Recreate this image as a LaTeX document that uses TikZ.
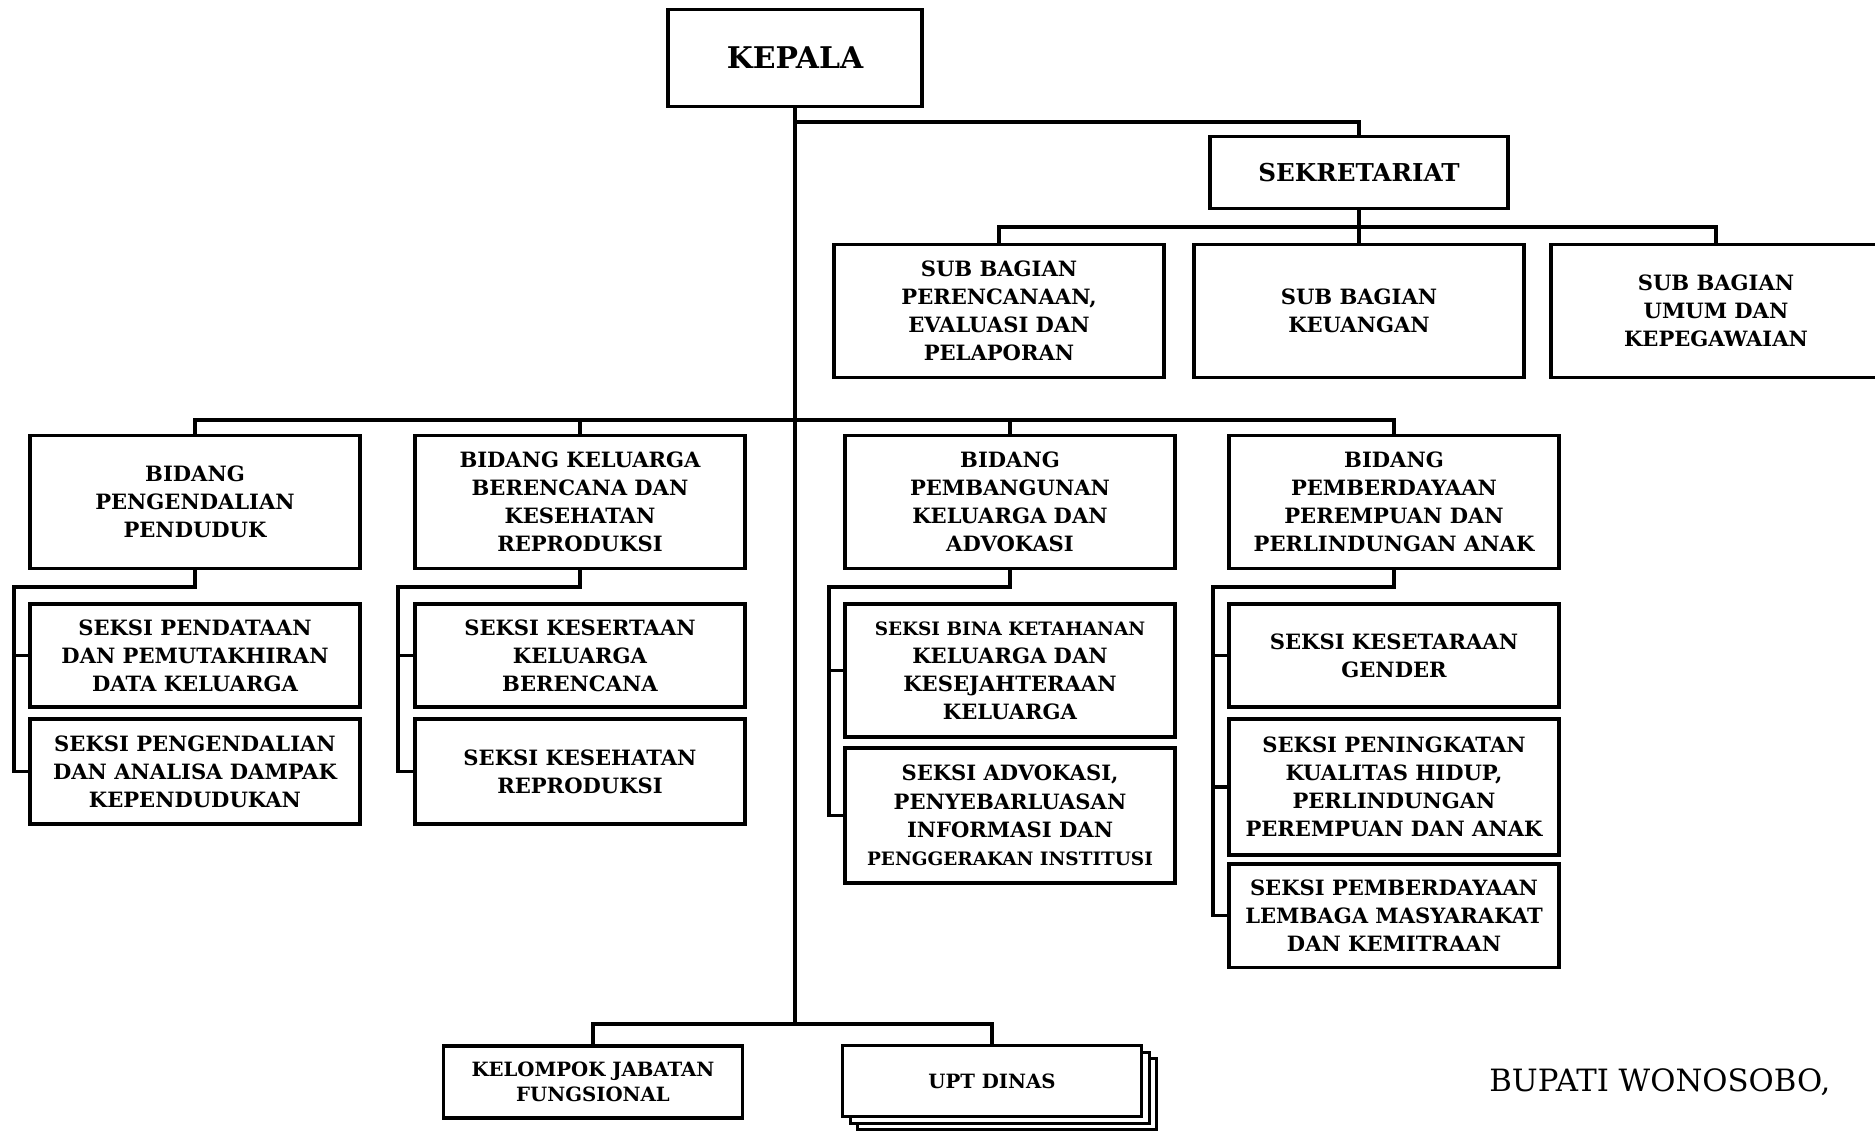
\documentclass[tikz,border=0pt]{standalone}
\usepackage{fontspec}
\setmainfont{DejaVu Serif}
\usetikzlibrary{positioning,shadows}
\newcommand\txtkepala{\bfseries\fontsize{17}{20}\selectfont}
\newcommand\txtsekre{\bfseries\fontsize{14}{17}\selectfont}
\newcommand\txtbox{\bfseries\fontsize{12}{16}\selectfont}
\newcommand\txtkecil{\bfseries\fontsize{10.5}{14}\selectfont}
\newcommand\txtbawah{\bfseries\fontsize{11.2}{14.5}\selectfont}
\newcommand\txtttd{\fontsize{17.5}{21}\selectfont}
\tikzset{
  obox/.style={draw, line width=2.2pt, fill=white, align=center,
               inner sep=2pt, font=\txtbox},
  nsub/.style={obox, minimum width=6.6cm, minimum height=2.66cm},
  nbid/.style={obox, minimum width=6.6cm, minimum height=2.66cm},
  nsek/.style={obox, minimum width=6.6cm},
  nbawah/.style={obox, font=\txtbawah, minimum width=5.98cm, minimum height=1.44cm},
  link/.style={line width=1.9pt},
}

\begin{document}
\begin{tikzpicture}[x=0.02cm, y=-0.02cm]
  \useasboundingbox (0,0) rectangle (1875,1130);
  % pimpinan dan sekretariat
  \node[obox, font=\txtkepala, minimum width=5.08cm, minimum height=1.94cm] (kepala) at (795,58) {KEPALA};
  \node[obox, font=\txtsekre, minimum width=5.96cm, minimum height=1.44cm] (sekre) at (1359,172.5) {SEKRETARIAT};
  \node[nsub] (sb1) at (999,311) {SUB BAGIAN\\PERENCANAAN,\\EVALUASI DAN\\PELAPORAN};
  \node[nsub] (sb2) at (1359,311) {SUB BAGIAN\\KEUANGAN};
  \node[nsub] (sb3) at (1716,311) {SUB BAGIAN\\UMUM DAN\\KEPEGAWAIAN};
  % bidang
  \node[nbid] (bid1) at (195,502) {BIDANG\\PENGENDALIAN\\PENDUDUK};
  \node[nbid] (bid2) at (580,502) {BIDANG KELUARGA\\BERENCANA DAN\\KESEHATAN\\REPRODUKSI};
  \node[nbid] (bid3) at (1010,502) {BIDANG\\PEMBANGUNAN\\KELUARGA DAN\\ADVOKASI};
  \node[nbid] (bid4) at (1394,502) {BIDANG\\PEMBERDAYAAN\\PEREMPUAN DAN\\PERLINDUNGAN ANAK};
  % seksi
  \node[nsek, minimum height=2.05cm, below=0.64cm of bid1] (s11) {SEKSI PENDATAAN\\DAN PEMUTAKHIRAN\\DATA KELUARGA};
  \node[nsek, minimum height=2.09cm, below=0.17cm of s11] (s12) {SEKSI PENGENDALIAN\\DAN ANALISA DAMPAK\\KEPENDUDUKAN};
  \node[nsek, minimum height=2.05cm, below=0.64cm of bid2] (s21) {SEKSI KESERTAAN\\KELUARGA\\BERENCANA};
  \node[nsek, minimum height=2.09cm, below=0.17cm of s21] (s22) {SEKSI KESEHATAN\\REPRODUKSI};
  \node[nsek, minimum height=2.65cm, below=0.64cm of bid3] (s31) {{\txtkecil SEKSI BINA KETAHANAN}\\KELUARGA DAN\\KESEJAHTERAAN\\KELUARGA};
  \node[nsek, minimum height=2.69cm, below=0.15cm of s31] (s32) {SEKSI ADVOKASI,\\PENYEBARLUASAN\\INFORMASI DAN\\{\txtkecil PENGGERAKAN INSTITUSI}};
  \node[nsek, minimum height=2.05cm, below=0.64cm of bid4] (s41) {SEKSI KESETARAAN\\GENDER};
  \node[nsek, minimum height=2.71cm, below=0.17cm of s41] (s42) {SEKSI PENINGKATAN\\KUALITAS HIDUP,\\PERLINDUNGAN\\PEREMPUAN DAN ANAK};
  \node[nsek, minimum height=2.07cm, below=0.11cm of s42] (s43) {SEKSI PEMBERDAYAAN\\LEMBAGA MASYARAKAT\\DAN KEMITRAAN};
  % kelompok jabatan fungsional dan upt
  \node[nbawah] (kjf) at (593,1082) {KELOMPOK JABATAN\\FUNGSIONAL};
  \node[nbawah, minimum height=1.42cm,
        copy shadow={shadow xshift=0.30cm, shadow yshift=-0.26cm, draw=black, fill=white, line width=2.2pt},
        copy shadow={shadow xshift=0.16cm, shadow yshift=-0.14cm, draw=black, fill=white, line width=2.2pt}]
        (upt) at (992,1081) {UPT DINAS};
  \node[font=\txtttd, anchor=west, inner sep=0pt] (ttd) at (1489,1082) {BUPATI WONOSOBO,};

  % garis
  \coordinate (jsek) at (795,122);
  \coordinate (jsb) at (1359,227);
  \coordinate (jbid) at (795,420);
  \coordinate (jbawah) at (795,1024);
  \draw[link] (kepala.south) -- (jbawah);
  \draw[link] (jsek) -| (sekre.north);
  \draw[link] (sekre.south) -- (sb2.north);
  \draw[link] (sb1.north) |- (jsb) -| (sb3.north);
  \draw[link] (bid1.north) |- (jbid) -| (bid4.north);
  \draw[link] (bid2.north) -- (bid2.north |- jbid);
  \draw[link] (bid3.north) -- (bid3.north |- jbid);
  \draw[link] (kjf.north) |- (jbawah) -| (upt.north);
  % rel seksi
  \coordinate (r1) at (14,587);
  \coordinate (r2) at (398,587);
  \coordinate (r3) at (829,587);
  \coordinate (r4) at (1213,587);
  \draw[link] (bid1.south) |- (r1) |- (s12.west);
  \draw[link] (r1 |- s11.west) -- (s11.west);
  \draw[link] (bid2.south) |- (r2) |- (s22.west);
  \draw[link] (r2 |- s21.west) -- (s21.west);
  \draw[link] (bid3.south) |- (r3) |- (s32.west);
  \draw[link] (r3 |- s31.west) -- (s31.west);
  \draw[link] (bid4.south) |- (r4) |- (s43.west);
  \draw[link] (r4 |- s41.west) -- (s41.west);
  \draw[link] (r4 |- s42.west) -- (s42.west);
\end{tikzpicture}
\end{document}
